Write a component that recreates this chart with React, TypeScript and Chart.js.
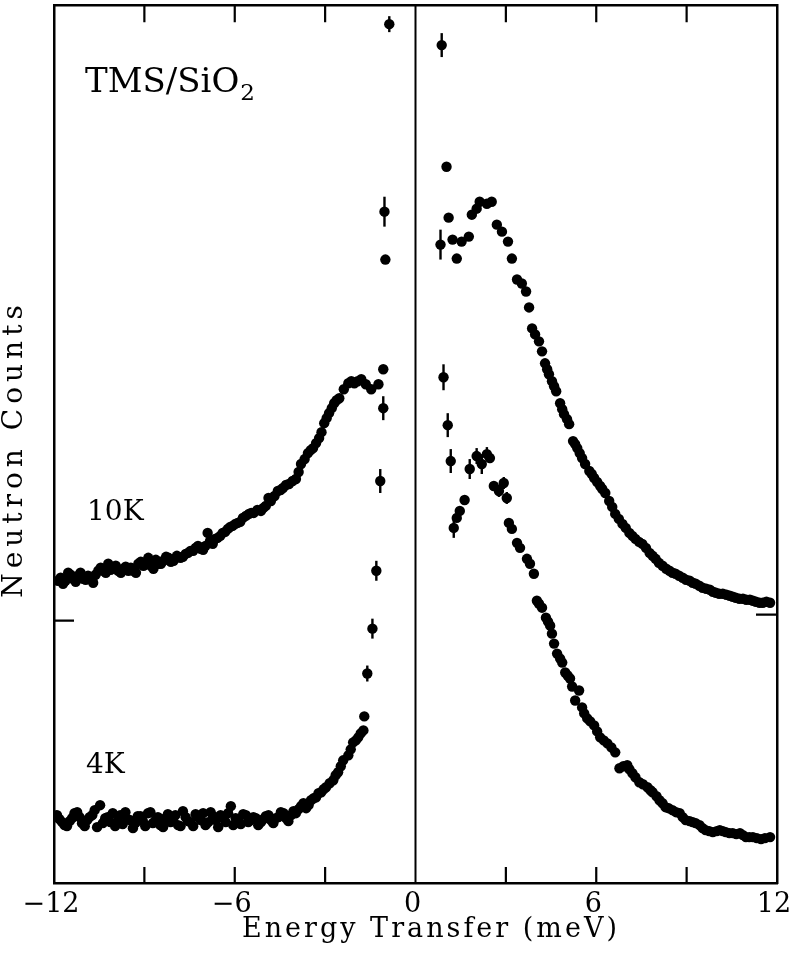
import React, { useEffect, useRef } from "react";
import { Chart, registerables } from "chart.js";

Chart.register(...registerables);

// ---- Data (energy transfer in meV, counts in arbitrary units) ----
// 10 K scan
const tenKEnergy = [
  -11.87, -11.7, -11.53, -11.37, -11.2, -11.03, -10.87, -10.7, -10.53, -10.37,
  -10.2, -10.03, -9.87, -9.7, -9.53, -9.37, -9.2, -9.03, -8.87, -8.7,
  -8.53, -8.37, -8.2, -8.03, -7.8, -7.63, -7.47, -7.3, -7.13, -6.97,
  -6.9, -6.73, -6.57, -6.4, -6.23, -6.07, -5.9, -5.73, -5.53, -5.37,
  -5.13, -4.97, -4.8, -4.57, -4.4, -4.2, -3.97, -3.8, -3.57, -3.4,
  -3.2, -3.03, -2.87, -2.7, -2.53, -2.23, -2.03, -1.8, -1.47, -1.23,
  -1.07, -1.03, -0.87,
  0.87, 0.83, 1.03, 1.1, 1.23, 1.37, 1.53, 1.77, 1.87, 2.03,
  2.13, 2.37, 2.53, 2.7, 2.87, 3.07, 3.2, 3.37, 3.53, 3.67,
  3.77, 3.87, 3.97, 4.1, 4.2, 4.3, 4.43, 4.53, 4.67, 4.8,
  4.93, 5.1, 5.23, 5.37, 5.53, 5.63, 5.77, 5.93, 6.13, 6.3,
  6.43, 6.63, 6.87, 7.1, 7.3, 7.53, 7.77, 7.97, 8.2, 8.43,
  8.63, 8.87, 9.1, 9.3, 9.53, 9.77, 9.97, 10.2, 10.43, 10.63,
  10.87, 11.1, 11.3, 11.53, 11.77,
];
const tenKCounts = [
  303, 300, 311, 305, 308, 305, 308, 301, 313, 313,
  320, 316, 313, 315, 313, 313, 320, 318, 326, 315,
  320, 323, 326, 323, 326, 330, 333, 336, 335, 338,
  351, 340, 346, 351, 355, 358, 361, 366, 370, 371,
  373, 378, 383, 393, 396, 400, 405, 420, 431, 436,
  446, 461, 471, 481, 486, 501, 501, 505, 495, 500,
  515, 673, 861,
  840, 640, 718, 667, 645, 626, 643, 648, 670, 676,
  683, 681, 683, 660, 653, 643, 626, 605, 601, 593,
  577, 556, 550, 543, 533, 521, 510, 503, 493, 481,
  470, 460, 443, 436, 426, 420, 413, 406, 398, 391,
  383, 370, 360, 351, 345, 340, 331, 325, 318, 313,
  310, 306, 303, 300, 296, 294, 291, 290, 288, 286,
  285, 284, 282, 281, 281,
];
// 10 K, interleaved channels read between the above
const tenKEnergyFine = [
  -11.78, -11.62, -11.45, -11.28, -11.12, -10.95, -10.78, -10.62, -10.45, -10.28,
  -10.12, -9.95, -9.78, -9.62, -9.45, -9.28, -9.12, -8.95, -8.78, -8.62,
  -8.45, -8.28, -8.12, -7.92, -7.72, -7.55, -7.38, -7.22, -7.05, -6.82,
  -6.65, -6.48, -6.32, -6.15, -5.98, -5.82, -5.63, -5.45, -5.25, -5.05,
  -4.88, -4.68, -4.48, -4.3, -4.08, -3.88, -3.68, -3.48, -3.3, -3.12,
  -2.95, -2.78, -2.62, -2.38, -2.13, -1.92, -1.65,
  4.37, 4.6, 4.87, 5.03, 5.3, 5.45, 5.85, 6.03, 6.2,
  6.53, 6.75, 6.98, 7.2, 7.42, 7.65, 7.87, 8.08, 8.32, 8.53,
  8.75, 8.98, 9.2, 9.42, 9.65, 9.87, 10.08, 10.32, 10.53, 10.75,
  10.98, 11.2, 11.42, 11.65,
];
const tenKCountsFine = [
  306, 303, 309, 302, 311, 304, 306, 309, 316, 311,
  314, 318, 311, 317, 316, 311, 322, 321, 318, 324,
  320, 327, 322, 328, 327, 331, 333, 338, 334, 343,
  345, 348, 352, 357, 360, 362, 368, 371, 374, 376,
  386, 388, 394, 399, 403, 412, 425, 434, 441, 452,
  466, 476, 484, 495, 503, 503, 500,
  515, 498, 475, 465, 440, 431, 410, 402, 395,
  377, 365, 356, 348, 342, 336, 328, 321, 315, 311,
  308, 304, 301, 298, 295, 292, 290, 289, 287, 285,
  284, 283, 281, 282,
];
// [energy, error] for points carrying visible error bars
const tenKErrors = [
  [-1.03, 15], [-0.87, 8], [0.87, 12], [0.83, 15],
];

// 4 K scan
const fourKEnergy = [
  -11.9, -11.73, -11.57, -11.4, -11.23, -11.07, -10.9, -10.73, -10.57, -10.47,
  -10.3, -10.13, -9.97, -9.8, -9.63, -9.47, -9.3, -9.13, -8.97, -8.8,
  -8.63, -8.47, -8.3, -8.13, -7.97, -7.8, -7.63, -7.47, -7.3, -7.13,
  -6.97, -6.8, -6.63, -6.47, -6.3, -6.13, -5.97, -5.8, -5.63, -5.47,
  -5.3, -5.13, -4.97, -4.8, -4.63, -4.47, -4.3, -4.13, -3.97, -3.8,
  -3.63, -3.47, -3.3, -3.13, -2.97, -2.73, -2.57, -2.4, -2.23, -2.07,
  -1.9, -1.73, -1.7, -1.6, -1.43, -1.3, -1.17, -1.07, -1.0,
  0.93, 1.07, 1.17, 1.27, 1.37, 1.47, 1.63, 1.8, 2.03, 2.2,
  2.37, 2.47, 2.6, 2.77, 2.93, 3.03, 3.1, 3.2, 3.37, 3.47,
  3.7, 3.8, 3.93, 4.03, 4.2, 4.33, 4.47, 4.6, 4.7, 4.87,
  4.97, 5.13, 5.3, 5.43, 5.53, 5.7, 5.93, 6.13, 6.37, 6.63,
  6.77, 7.03, 7.2, 7.43, 7.7, 7.87, 8.1, 8.3, 8.53, 8.77,
  8.97, 9.2, 9.43, 9.63, 9.87, 10.1, 10.3, 10.53, 10.77, 10.97,
  11.2, 11.47, 11.77,
];
const fourKCounts = [
  68, 61, 57, 65, 71, 60, 63, 68, 56, 78,
  65, 61, 57, 68, 71, 63, 60, 67, 57, 71,
  63, 58, 65, 61, 68, 57, 66, 61, 69, 63,
  58, 71, 63, 68, 61, 77, 65, 59, 68, 63,
  65, 61, 67, 63, 65, 71, 65, 68, 70, 77,
  75, 83, 86, 91, 96, 103, 111, 123, 128, 141,
  146, 153, 167, 210, 255, 313, 403, 476, 625,
  507, 459, 423, 356, 366, 373, 384, 415, 428, 420,
  430, 426, 398, 393, 401, 386, 361, 355, 341, 336,
  325, 320, 310, 283, 276, 266, 258, 240, 230, 221,
  211, 205, 183, 193, 176, 165, 158, 146, 140, 131,
  115, 118, 110, 101, 96, 91, 83, 76, 73, 70,
  63, 61, 58, 53, 51, 53, 51, 50, 50, 46,
  46, 44, 46,
];
// 4 K, interleaved channels read between the above
const fourKEnergyFine = [
  -11.82, -11.65, -11.48, -11.32, -11.15, -10.98, -10.82, -10.65, -10.38, -10.22,
  -10.05, -9.88, -9.72, -9.55, -9.38, -9.22, -9.05, -8.88, -8.72, -8.55,
  -8.38, -8.22, -8.05, -7.88, -7.72, -7.55, -7.38, -7.22, -7.05, -6.88,
  -6.72, -6.55, -6.38, -6.22, -6.05, -5.88, -5.72, -5.55, -5.38, -5.22,
  -5.05, -4.88, -4.72, -4.55, -4.38, -4.22, -4.05, -3.88, -3.72, -3.55,
  -3.38, -3.22, -3.05, -2.85, -2.65, -2.48, -2.15, -1.98, -1.82,
  4.1, 4.4, 4.53, 4.8, 5.05, 5.2, 5.6, 5.8, 6.03, 6.25,
  6.5, 6.9, 7.1, 7.3, 7.55, 7.8, 8.0, 8.2, 8.4, 8.65,
  8.87, 9.1, 9.3, 9.53, 9.75, 10.0, 10.2, 10.42, 10.65, 10.87,
  11.08, 11.33, 11.6,
];
const fourKCountsFine = [
  64, 58, 62, 70, 66, 57, 66, 73, 60, 66,
  70, 62, 59, 64, 55, 67, 62, 70, 60, 66,
  56, 69, 64, 58, 72, 62, 57, 66, 70, 61,
  67, 56, 65, 70, 58, 63, 69, 61, 66, 58,
  64, 68, 60, 66, 70, 62, 72, 74, 80, 78,
  85, 90, 94, 100, 108, 117, 134, 143, 150,
  280, 262, 250, 225, 208, 197, 170, 162, 152, 143,
  136, 117, 114, 106, 99, 93, 87, 80, 75, 71,
  66, 62, 60, 55, 52, 52, 52, 50, 49, 48,
  46, 45, 45,
];
const fourKErrors = [
  [-1.6, 8], [-1.43, 10], [-1.3, 10], [-1.17, 12], [-1.07, 12],
  [0.93, 13], [1.07, 12], [1.17, 12], [1.27, 10], [1.8, 10],
  [2.03, 8], [2.2, 10], [2.37, 7], [2.47, 5], [2.77, 6], [2.93, 6], [3.03, 6],
];

const xMin = -12;
const xMax = 12;
const xLabelStep = 6;
const xInnerTicks = [-9, -6, -3, 3, 6, 9];
const yMin = 0;
const yMax = 880;
const baselineMarkLeft = 263;
const baselineMarkRight = 269;

const SERIF = '"DejaVu Serif", "Liberation Serif", serif';

const toPoints = (xs: number[], ys: number[]) => xs.map((x, i) => ({ x, y: ys[i] }));

const framePlugin = {
  id: "frameExtras",
  afterDatasetsDraw(chart: any) {
    const ctx = chart.ctx as CanvasRenderingContext2D;
    const xs = chart.scales.x;
    const ys = chart.scales.y;
    ctx.save();
    ctx.strokeStyle = "#000";
    ctx.lineWidth = 2.4;
    const sets = [tenKErrors, fourKErrors];
    const energies = [tenKEnergy, fourKEnergy];
    const counts = [tenKCounts, fourKCounts];
    sets.forEach((errs, d) => {
      errs.forEach(([e, err]) => {
        const i = energies[d].indexOf(e);
        if (i < 0) return;
        const px = xs.getPixelForValue(e);
        const y1 = ys.getPixelForValue(counts[d][i] - err);
        const y2 = ys.getPixelForValue(counts[d][i] + err);
        ctx.beginPath();
        ctx.moveTo(px, y1);
        ctx.lineTo(px, y2);
        ctx.stroke();
      });
    });
    ctx.restore();
  },
  afterDraw(chart: any) {
    const ctx = chart.ctx as CanvasRenderingContext2D;
    const { left, right, top, bottom } = chart.chartArea;
    const xs = chart.scales.x;
    const ys = chart.scales.y;
    ctx.save();
    ctx.strokeStyle = "#000";
    ctx.lineWidth = 2;
    // zero line
    const x0 = xs.getPixelForValue(0);
    ctx.beginPath();
    ctx.moveTo(x0, top);
    ctx.lineTo(x0, bottom);
    ctx.stroke();
    // inward ticks
    ctx.lineWidth = 2.2;
    xInnerTicks.forEach((v) => {
      const px = xs.getPixelForValue(v);
      ctx.beginPath();
      ctx.moveTo(px, bottom);
      ctx.lineTo(px, bottom - 16);
      ctx.moveTo(px, top);
      ctx.lineTo(px, top + 17);
      ctx.stroke();
    });
    const yl = ys.getPixelForValue(baselineMarkLeft);
    const yr = ys.getPixelForValue(baselineMarkRight);
    ctx.beginPath();
    ctx.moveTo(left, yl);
    ctx.lineTo(left + 20, yl);
    ctx.moveTo(right, yr);
    ctx.lineTo(right - 21, yr);
    ctx.stroke();

    // texts
    ctx.fillStyle = "#000";
    ctx.textBaseline = "alphabetic";
    ctx.textAlign = "left";
    ctx.font = `34px ${SERIF}`;
    ctx.fillText("TMS/SiO", 85, 92);
    const w = ctx.measureText("TMS/SiO").width;
    ctx.font = `23px ${SERIF}`;
    ctx.fillText("2", 85 + w + 1, 100);

    ctx.font = `28px ${SERIF}`;
    ctx.fillText("10K", 87, 520);
    ctx.fillText("4K", 86, 773);

    // axis titles
    (ctx as any).letterSpacing = "3px";
    ctx.font = `27px ${SERIF}`;
    ctx.textAlign = "center";
    ctx.fillText("Energy Transfer (meV)", 431, 937);

    (ctx as any).letterSpacing = "5px";
    ctx.font = `28px ${SERIF}`;
    ctx.translate(22, 449);
    ctx.rotate(-Math.PI / 2);
    ctx.fillText("Neutron Counts", 0, 0);
    (ctx as any).letterSpacing = "0px";
    ctx.restore();
  },
};

export default function App() {
  const ref = useRef<HTMLCanvasElement | null>(null);
  useEffect(() => {
    if (!ref.current) return;
    const border = { display: true, color: "#000", width: 2.5 };
    const noPad = (s: any) => {
      s.paddingLeft = 0;
      s.paddingRight = 0;
      s.paddingTop = 0;
      s.paddingBottom = 0;
    };
    const pointStyle = {
      pointRadius: 5.2,
      pointBackgroundColor: "#000",
      pointBorderWidth: 0,
      showLine: false,
    };
    const chart = new Chart(ref.current, {
      type: "scatter",
      data: {
        datasets: [
          {
            label: "10K",
            data: [
              ...toPoints(tenKEnergy, tenKCounts),
              ...toPoints(tenKEnergyFine, tenKCountsFine),
            ],
            ...pointStyle,
          },
          {
            label: "4K",
            data: [
              ...toPoints(fourKEnergy, fourKCounts),
              ...toPoints(fourKEnergyFine, fourKCountsFine),
            ],
            ...pointStyle,
          },
        ],
      },
      options: {
        responsive: false,
        animation: false,
        devicePixelRatio: 1,
        layout: { padding: 0 },
        plugins: {
          legend: { display: false },
          tooltip: { enabled: false },
        },
        scales: {
          x: {
            type: "linear",
            position: "bottom",
            min: xMin,
            max: xMax,
            ticks: {
              stepSize: xLabelStep,
              color: "#000",
              font: { family: SERIF, size: 27 },
              padding: 6,
              labelOffset: -3,
              maxRotation: 0,
              autoSkip: false,
              callback: (v: any) =>
                Number(v) < 0 ? "\u2212" + Math.abs(Number(v)) : String(v),
            },
            grid: { display: false, drawTicks: false },
            border,
            afterFit: (s: any) => {
              s.height = 78;
              noPad(s);
            },
          },
          y: {
            type: "linear",
            position: "left",
            min: yMin,
            max: yMax,
            ticks: { display: false },
            grid: { display: false, drawTicks: false },
            border,
            afterFit: (s: any) => {
              s.width = 54;
              noPad(s);
            },
          },
          xTop: {
            type: "linear",
            position: "top",
            min: xMin,
            max: xMax,
            ticks: { display: false },
            grid: { display: false, drawTicks: false },
            border,
            afterFit: (s: any) => {
              s.height = 3;
              noPad(s);
            },
          },
          yRight: {
            type: "linear",
            position: "right",
            min: yMin,
            max: yMax,
            ticks: { display: false },
            grid: { display: false, drawTicks: false },
            border,
            afterFit: (s: any) => {
              s.width = 17;
              noPad(s);
            },
          },
        },
      } as any,
      plugins: [framePlugin],
    });
    return () => chart.destroy();
  }, []);

  return (
    <div
      style={{
        position: "absolute",
        left: 0,
        top: 0,
        width: 794,
        height: 961,
        background: "#fff",
      }}
    >
      <canvas ref={ref} width={794} height={961} />
    </div>
  );
}
